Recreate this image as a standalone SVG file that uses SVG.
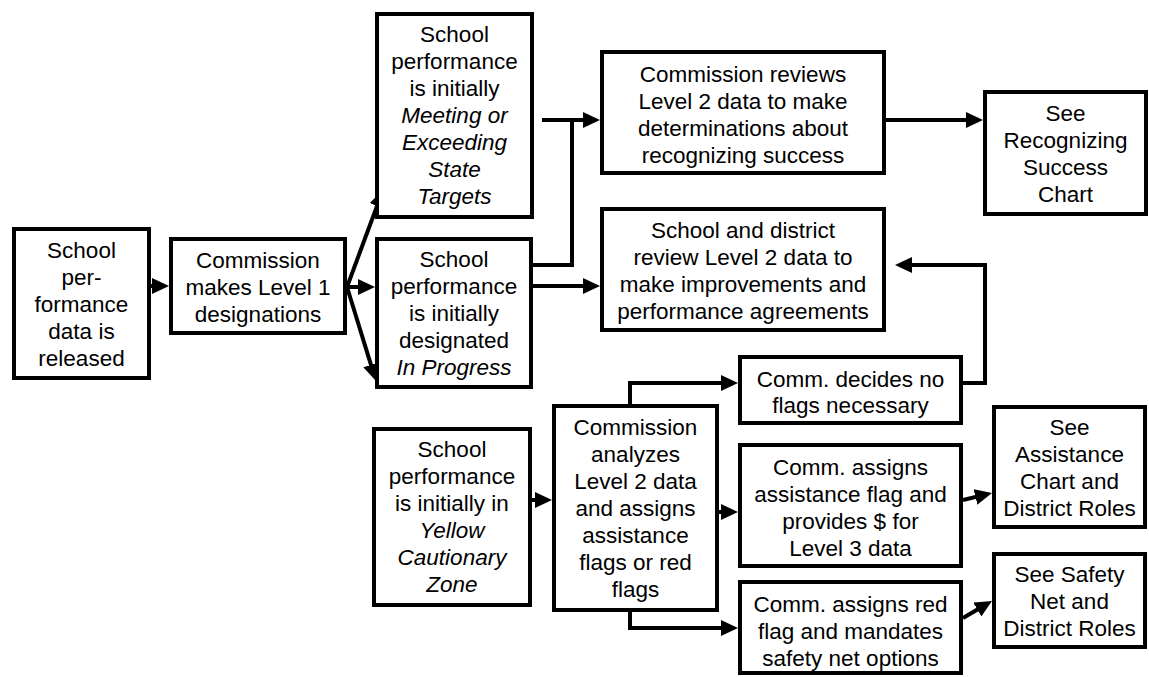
<svg xmlns="http://www.w3.org/2000/svg" width="1149" height="677" viewBox="0 0 1149 677">
<style>
.box{fill:#fff;stroke:#000;stroke-width:4}
.t{font-family:"Liberation Sans",Arial,sans-serif;font-size:22.5px;fill:#000;text-anchor:middle}
.i{font-style:italic}
.c{fill:none;stroke:#000;stroke-width:4;marker-end:url(#arr)}
.n{fill:none;stroke:#000;stroke-width:4}
</style>
<defs>
<marker id="arr" markerUnits="userSpaceOnUse" markerWidth="18" markerHeight="16" refX="9" refY="8" orient="auto">
<path d="M0,0 L17,8 L0,16 z" fill="#000"/>
</marker>
</defs>
<rect width="1149" height="677" fill="#fff"/>
<g id="connectors">
<path class="c" d="M151,286 L161,286"/>
<path class="c" d="M347,287 L380.2,197.5"/>
<path class="c" d="M347,287 L367,287"/>
<path class="c" d="M347,287 L373.6,373.4"/>
<path class="c" d="M542,120 L592,120"/>
<path class="n" d="M533,265 L572,265 L572,120"/>
<path class="c" d="M533,286 L592,286"/>
<path class="c" d="M886,120 L975,120"/>
<path class="c" d="M630,404 L630,383 L730,383"/>
<path class="c" d="M963,383 L985,383 L985,265 L903,265"/>
<path class="c" d="M532,500 L544,500"/>
<path class="c" d="M719,512 L730,512"/>
<path class="c" d="M630,612 L630,628 L730,628"/>
<path class="c" d="M963,500 L984.2,494.9"/>
<path class="c" d="M963,618 L985.1,605"/>
</g>
<g id="n_released">
<rect class="box" x="14" y="229" width="135" height="149"/>
<text class="t" x="81.5" y="258">School</text>
<text class="t" x="81.5" y="285">per-</text>
<text class="t" x="81.5" y="312">formance</text>
<text class="t" x="81.5" y="339">data is</text>
<text class="t" x="81.5" y="366">released</text>
</g>
<g id="n_level1">
<rect class="box" x="171" y="239" width="174" height="94"/>
<text class="t" x="258" y="268">Commission</text>
<text class="t" x="258" y="295">makes Level 1</text>
<text class="t" x="258" y="322">designations</text>
</g>
<g id="n_meeting">
<rect class="box" x="377" y="14" width="155" height="203"/>
<text class="t" x="454.5" y="42">School</text>
<text class="t" x="454.5" y="69">performance</text>
<text class="t" x="454.5" y="96">is initially</text>
<text class="t i" x="454.5" y="123">Meeting or</text>
<text class="t i" x="454.5" y="150">Exceeding</text>
<text class="t i" x="454.5" y="177">State</text>
<text class="t i" x="454.5" y="204">Targets</text>
</g>
<g id="n_inprogress">
<rect class="box" x="377" y="239" width="154" height="148"/>
<text class="t" x="454" y="267">School</text>
<text class="t" x="454" y="294">performance</text>
<text class="t" x="454" y="321">is initially</text>
<text class="t" x="454" y="348">designated</text>
<text class="t i" x="454" y="375">In Progress</text>
</g>
<g id="n_reviews">
<rect class="box" x="602" y="52" width="282" height="121"/>
<text class="t" x="743" y="82">Commission reviews</text>
<text class="t" x="743" y="109">Level 2 data to make</text>
<text class="t" x="743" y="136">determinations about</text>
<text class="t" x="743" y="163">recognizing success</text>
</g>
<g id="n_district">
<rect class="box" x="602" y="209" width="282" height="121"/>
<text class="t" x="743" y="238">School and district</text>
<text class="t" x="743" y="265">review Level 2 data to</text>
<text class="t" x="743" y="292">make improvements and</text>
<text class="t" x="743" y="319">performance agreements</text>
</g>
<g id="n_recognizing">
<rect class="box" x="985" y="92" width="161" height="122"/>
<text class="t" x="1065.5" y="121">See</text>
<text class="t" x="1065.5" y="148">Recognizing</text>
<text class="t" x="1065.5" y="175">Success</text>
<text class="t" x="1065.5" y="202">Chart</text>
</g>
<g id="n_yellow">
<rect class="box" x="374" y="429" width="156" height="176"/>
<text class="t" x="452" y="457">School</text>
<text class="t" x="452" y="484">performance</text>
<text class="t" x="452" y="511">is initially in</text>
<text class="t i" x="452" y="538">Yellow</text>
<text class="t i" x="452" y="565">Cautionary</text>
<text class="t i" x="452" y="592">Zone</text>
</g>
<g id="n_analyzes">
<rect class="box" x="554" y="406" width="163" height="204"/>
<text class="t" x="635.5" y="435">Commission</text>
<text class="t" x="635.5" y="462">analyzes</text>
<text class="t" x="635.5" y="489">Level 2 data</text>
<text class="t" x="635.5" y="516">and assigns</text>
<text class="t" x="635.5" y="543">assistance</text>
<text class="t" x="635.5" y="570">flags or red</text>
<text class="t" x="635.5" y="597">flags</text>
</g>
<g id="n_noflags">
<rect class="box" x="740" y="357" width="221" height="66"/>
<text class="t" x="850.5" y="387">Comm. decides no</text>
<text class="t" x="850.5" y="413">flags necessary</text>
</g>
<g id="n_assist">
<rect class="box" x="740" y="445" width="221" height="121"/>
<text class="t" x="850.5" y="475">Comm. assigns</text>
<text class="t" x="850.5" y="502">assistance flag and</text>
<text class="t" x="850.5" y="529">provides $ for</text>
<text class="t" x="850.5" y="556">Level 3 data</text>
</g>
<g id="n_redflag">
<rect class="box" x="740" y="582" width="221" height="91"/>
<text class="t" x="850.5" y="612">Comm. assigns red</text>
<text class="t" x="850.5" y="639">flag and mandates</text>
<text class="t" x="850.5" y="666">safety net options</text>
</g>
<g id="n_assistchart">
<rect class="box" x="994" y="407" width="151" height="120"/>
<text class="t" x="1069.5" y="435">See</text>
<text class="t" x="1069.5" y="462">Assistance</text>
<text class="t" x="1069.5" y="489">Chart and</text>
<text class="t" x="1069.5" y="516">District Roles</text>
</g>
<g id="n_safety">
<rect class="box" x="994" y="554" width="151" height="93"/>
<text class="t" x="1069.5" y="582">See Safety</text>
<text class="t" x="1069.5" y="609">Net and</text>
<text class="t" x="1069.5" y="636">District Roles</text>
</g>
</svg>
